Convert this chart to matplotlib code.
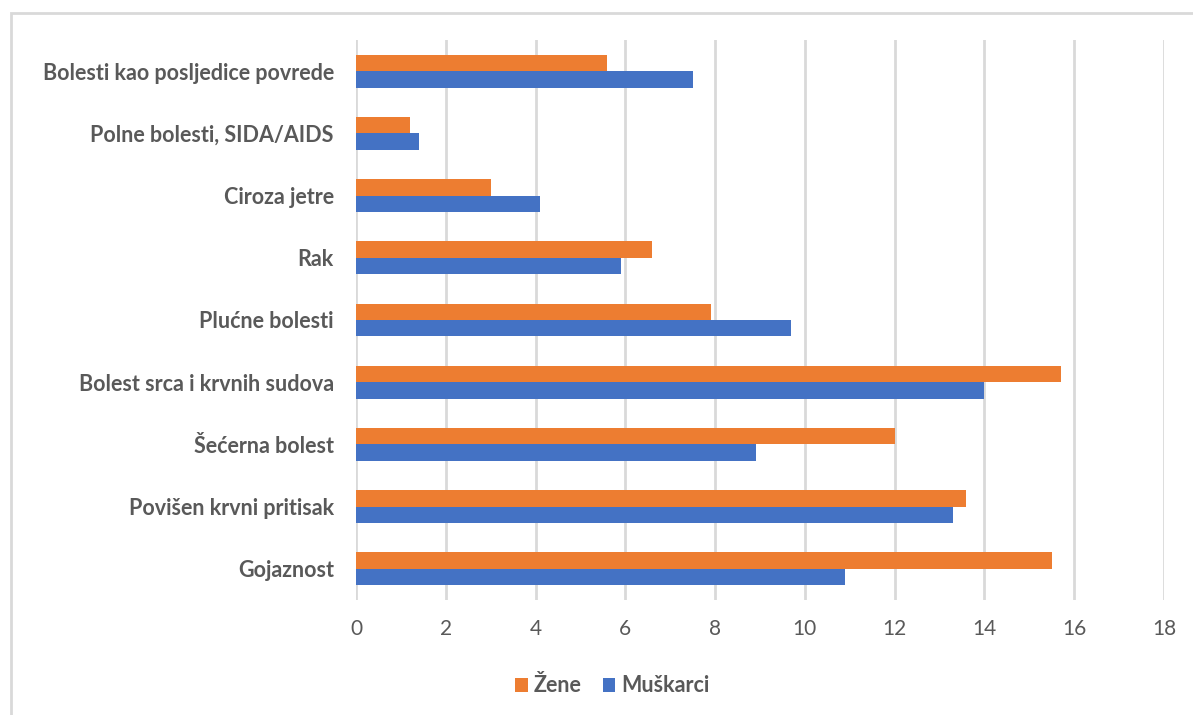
import numpy as np
import matplotlib.pyplot as plt
from matplotlib.patches import Rectangle

# data (bottom to top, as in the chart)
categories = ["Gojaznost", "Povišen krvni pritisak", "Šećerna bolest",
              "Bolest srca i krvnih sudova", "Plućne bolesti", "Rak",
              "Ciroza jetre", "Polne bolesti, SIDA/AIDS",
              "Bolesti kao posljedice povrede"]
muskarci = [10.9, 13.3, 8.9, 14.0, 9.7, 5.9, 4.1, 1.4, 7.5]
zene = [15.5, 13.6, 12.0, 15.7, 7.9, 6.6, 3.0, 1.2, 5.6]
xticks = list(range(0, 20, 2))

blue = "#4472c4"
orange = "#ed7d31"
grey_txt = "#595959"
grid_c = "#d9d9d9"

plt.rcParams['font.family'] = ['Lato', 'DejaVu Sans']

fig = plt.figure(figsize=(11.93, 7.15), dpi=100)
W, H = 1193, 715

# outer chart border (runs off the right and bottom edge)
fig.patches.append(Rectangle((11 / W, -0.05), 1.1, 1 - 13 / H + 0.05,
                             transform=fig.transFigure, fill=False,
                             edgecolor=grid_c, linewidth=2))

ax = fig.add_axes([356 / W, 1 - 600 / H, 808 / W, 560 / H])

y = np.arange(len(categories))
h = 0.265
ax.barh(y - h / 2, muskarci, height=h, color=blue, label="Muškarci", zorder=3)
ax.barh(y + h / 2, zene, height=h, color=orange, label="Žene", zorder=3)

ax.set_xlim(0, 18)
ax.set_ylim(-0.5, len(categories) - 0.5)
ax.set_xticks(xticks)
ax.set_yticks(y)
ax.set_yticklabels(categories, fontsize=15.5, fontweight='bold', color=grey_txt)
ax.tick_params(axis='x', labelsize=15, colors=grey_txt, length=0, pad=14)
ax.tick_params(axis='y', length=0, pad=16)
ax.xaxis.grid(True, color=grid_c, linewidth=2, zorder=0)
for s in ax.spines.values():
    s.set_visible(False)

handles, labels = ax.get_legend_handles_labels()
fig.legend(handles[::-1], labels[::-1], loc='center',
           bbox_to_anchor=(612 / W, 1 - 686 / H), ncol=2, frameon=False,
           fontsize=15.5, handlelength=0.6, handleheight=0.6,
           handletextpad=0.25, columnspacing=1.0, labelcolor=grey_txt)
for t in fig.legends[0].get_texts():
    t.set_fontweight('bold')

fig.savefig("out.png", dpi=100)
